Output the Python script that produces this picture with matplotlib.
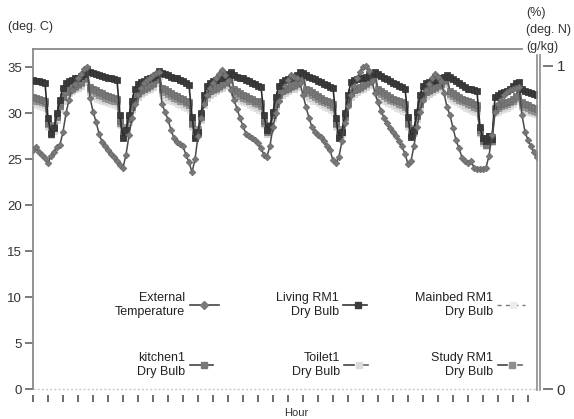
import matplotlib
matplotlib.use('Agg')
import matplotlib.pyplot as plt
from matplotlib.lines import Line2D

plt.rcParams['font.family'] = ['Liberation Sans', 'DejaVu Sans']

# ---------------- data (hourly, deg C) ----------------
external = [
    26.0, 26.3, 25.8, 25.5, 25.1, 24.6, 25.4, 25.8, 26.3, 26.6, 28.0, 30.0, 31.5, 32.5, 33.2, 33.8, 34.3, 34.8, 35.0, 31.7, 30.2, 29.1, 27.8, 26.9,
    26.5, 26.0, 25.6, 25.3, 24.8, 24.4, 24.1, 25.5, 27.6, 29.5, 31.0, 32.0, 32.8, 33.3, 33.6, 33.9, 34.2, 34.4, 34.5, 31.0, 30.2, 29.3, 28.2, 27.3,
    26.9, 26.7, 26.4, 25.5, 24.7, 23.6, 25.0, 27.5, 29.5, 31.0, 32.0, 32.8, 33.3, 33.8, 34.3, 34.7, 34.2, 33.5, 32.5, 31.5, 30.5, 29.5, 28.6, 27.8,
    27.5, 27.3, 27.1, 26.8, 26.2, 25.5, 25.3, 26.5, 28.5, 30.0, 31.4, 32.3, 33.0, 33.6, 34.2, 34.0, 33.8, 33.3, 32.0, 30.7, 29.5, 28.5, 28.0, 27.7,
    27.4, 27.0, 26.5, 26.0, 24.9, 24.6, 25.3, 27.0, 29.0, 30.8, 32.0, 33.0, 33.8, 34.5, 35.0, 35.2, 34.6, 33.5, 32.2, 31.2, 30.3, 29.5, 28.9, 28.4,
    28.0, 27.5, 27.0, 26.4, 25.6, 24.5, 24.8, 26.5, 28.5, 30.2, 31.5, 32.5, 33.2, 33.8, 34.3, 34.0, 33.5, 32.2, 30.7, 29.8, 28.4, 27.1, 26.2, 25.2,
    24.8, 24.6, 24.8, 24.1, 24.0, 23.9, 23.9, 24.1, 25.4, 27.6, 30.1, 31.0, 31.5, 32.0, 32.3, 32.5, 32.7, 32.8, 32.9, 29.8, 28.0, 27.1, 26.4, 25.8, 25.3,
]
living = [
    33.6, 33.5, 33.5, 33.4, 33.3, 29.5, 27.8, 28.4, 30.0, 31.5, 32.8, 33.3, 33.5, 33.6, 33.8, 33.9, 34.1, 34.3, 34.8, 34.5, 34.4, 34.3, 34.2, 34.1,
    34.0, 33.9, 33.8, 33.7, 33.6, 29.8, 27.3, 28.2, 29.8, 31.4, 32.7, 33.2, 33.4, 33.5, 33.7, 33.8, 34.0, 34.2, 34.6, 34.4, 34.3, 34.2, 34.0, 33.9,
    33.8, 33.6, 33.5, 33.3, 33.1, 29.6, 27.3, 28.0, 30.0, 32.0, 33.0, 33.3, 33.5, 33.6, 33.8, 33.9, 34.1, 34.3, 34.5, 34.2, 34.0, 33.9, 33.8, 33.6,
    33.5, 33.3, 33.2, 33.0, 32.9, 29.8, 28.2, 28.6, 30.2, 31.8, 33.0, 33.4, 33.6, 33.7, 33.9, 34.0, 34.2, 34.5, 34.4, 34.2, 34.0, 33.8, 33.7, 33.5,
    33.4, 33.2, 33.1, 32.9, 32.8, 29.5, 27.3, 28.0, 30.0, 32.0, 33.4, 33.6, 33.7, 33.8, 33.9, 34.0, 34.2, 34.3, 34.5, 34.3, 34.1, 33.9, 33.7, 33.5,
    33.3, 33.2, 33.0, 32.9, 32.7, 29.6, 27.4, 28.2, 30.2, 32.0, 33.0, 33.3, 33.4, 33.5, 33.6, 33.7, 33.8, 34.0, 34.2, 34.0, 33.7, 33.5, 33.3, 33.1,
    32.9, 32.7, 32.6, 32.5, 32.4, 28.5, 27.3, 27.0, 27.5, 27.2, 31.8, 32.0, 32.2, 32.3, 32.4, 32.6, 33.0, 33.3, 33.4, 32.6, 32.4, 32.3, 32.2, 32.1, 32.0,
]
kitchen = [
    31.8, 31.7, 31.6, 31.5, 31.4, 29.0, 27.9, 28.5, 29.6, 30.8, 31.8, 32.3, 32.6, 32.8, 33.0, 33.2, 33.4, 33.8, 34.6, 32.9, 32.7, 32.5, 32.3, 32.2,
    32.0, 31.9, 31.8, 31.7, 31.6, 29.2, 27.6, 28.2, 29.4, 30.7, 31.6, 32.2, 32.5, 32.7, 32.9, 33.1, 33.3, 33.7, 34.4, 32.8, 32.6, 32.4, 32.2, 32.0,
    31.9, 31.7, 31.6, 31.4, 31.2, 29.0, 27.6, 28.0, 29.6, 31.2, 32.1, 32.4, 32.6, 32.8, 33.0, 33.2, 33.4, 33.7, 34.3, 32.6, 32.4, 32.2, 32.0, 31.9,
    31.7, 31.6, 31.4, 31.3, 31.1, 29.2, 28.0, 28.4, 29.8, 31.0, 32.0, 32.4, 32.6, 32.8, 33.0, 33.1, 33.3, 33.8, 34.2, 32.7, 32.5, 32.3, 32.1, 31.9,
    31.7, 31.5, 31.4, 31.2, 31.0, 29.0, 27.5, 28.0, 29.6, 31.2, 32.2, 32.5, 32.7, 32.9, 33.1, 33.3, 33.5, 33.9, 34.3, 32.6, 32.4, 32.2, 32.0, 31.8,
    31.6, 31.5, 31.3, 31.2, 31.0, 29.0, 27.6, 28.1, 29.7, 31.0, 32.0, 32.3, 32.5, 32.7, 32.9, 33.1, 33.3, 33.6, 33.9, 32.4, 32.2, 32.0, 31.8, 31.6,
    31.5, 31.3, 31.2, 31.0, 30.9, 28.2, 27.0, 26.6, 27.2, 27.0, 30.6, 30.8, 31.0, 31.1, 31.2, 31.4, 31.6, 31.9, 32.8, 31.2, 31.0, 30.9, 30.7, 30.6, 30.5,
]
study = [
    31.5, 31.4, 31.3, 31.2, 31.1, 28.8, 28.2, 28.7, 29.8, 31.0, 31.9, 32.4, 32.6, 32.7, 32.9, 33.1, 33.3, 33.7, 34.5, 32.6, 32.4, 32.2, 32.0, 31.9,
    31.7, 31.6, 31.5, 31.4, 31.3, 29.0, 27.9, 28.5, 29.6, 30.9, 31.8, 32.2, 32.4, 32.6, 32.8, 33.0, 33.2, 33.6, 34.3, 32.5, 32.3, 32.1, 31.9, 31.7,
    31.6, 31.4, 31.3, 31.1, 30.9, 28.8, 27.9, 28.3, 29.8, 31.4, 32.2, 32.4, 32.5, 32.7, 32.9, 33.1, 33.3, 33.6, 34.2, 32.3, 32.1, 31.9, 31.7, 31.6,
    31.4, 31.3, 31.1, 31.0, 30.8, 29.0, 28.3, 28.7, 30.0, 31.2, 32.1, 32.4, 32.5, 32.7, 32.9, 33.0, 33.2, 33.7, 34.1, 32.4, 32.2, 32.0, 31.8, 31.6,
    31.4, 31.2, 31.1, 30.9, 30.7, 28.8, 27.8, 28.3, 29.8, 31.4, 32.3, 32.5, 32.6, 32.8, 33.0, 33.2, 33.4, 33.8, 34.2, 32.3, 32.1, 31.9, 31.7, 31.5,
    31.3, 31.2, 31.0, 30.9, 30.7, 28.8, 27.9, 28.4, 29.9, 31.2, 32.1, 32.3, 32.4, 32.6, 32.8, 33.0, 33.2, 33.5, 33.8, 32.1, 31.9, 31.7, 31.5, 31.3,
    31.2, 31.0, 30.9, 30.7, 30.6, 28.0, 27.3, 26.9, 27.5, 27.4, 30.4, 30.6, 30.8, 30.9, 31.0, 31.2, 31.4, 31.7, 32.6, 30.9, 30.7, 30.6, 30.4, 30.3, 30.2,
]
toilet = [
    31.3, 31.2, 31.1, 31.0, 30.9, 28.6, 27.6, 28.1, 29.3, 30.5, 31.4, 31.9, 32.2, 32.4, 32.6, 32.8, 33.0, 33.4, 34.3, 32.3, 32.1, 31.9, 31.8, 31.6,
    31.5, 31.4, 31.3, 31.2, 31.1, 28.8, 27.4, 27.9, 29.1, 30.4, 31.3, 31.8, 32.1, 32.3, 32.5, 32.7, 32.9, 33.3, 34.1, 32.2, 32.0, 31.8, 31.7, 31.5,
    31.3, 31.2, 31.0, 30.9, 30.7, 28.6, 27.4, 27.8, 29.3, 30.9, 31.7, 32.0, 32.2, 32.4, 32.6, 32.8, 33.0, 33.3, 34.0, 32.1, 31.9, 31.7, 31.5, 31.4,
    31.2, 31.0, 30.9, 30.7, 30.6, 28.8, 27.8, 28.2, 29.5, 30.7, 31.6, 32.0, 32.2, 32.4, 32.6, 32.7, 32.9, 33.4, 33.9, 32.1, 31.9, 31.7, 31.6, 31.4,
    31.2, 31.0, 30.9, 30.7, 30.5, 28.6, 27.3, 27.8, 29.3, 30.9, 31.8, 32.1, 32.3, 32.5, 32.7, 32.9, 33.1, 33.5, 34.0, 32.0, 31.8, 31.6, 31.4, 31.3,
    31.1, 30.9, 30.8, 30.6, 30.5, 28.6, 27.4, 27.9, 29.4, 30.7, 31.6, 31.9, 32.1, 32.3, 32.5, 32.7, 32.9, 33.2, 33.6, 31.9, 31.7, 31.5, 31.3, 31.1,
    30.9, 30.8, 30.6, 30.5, 30.4, 27.9, 26.8, 26.4, 27.0, 26.9, 30.2, 30.4, 30.6, 30.7, 30.8, 31.0, 31.2, 31.5, 32.4, 30.7, 30.5, 30.4, 30.2, 30.1, 30.0,
]
mainbed = [
    31.0, 30.9, 30.8, 30.7, 30.6, 28.5, 27.9, 28.3, 29.4, 30.6, 31.5, 32.0, 32.3, 32.5, 32.7, 32.9, 33.1, 33.5, 34.4, 32.0, 31.8, 31.6, 31.5, 31.3,
    31.2, 31.1, 31.0, 30.9, 30.8, 28.7, 27.7, 28.1, 29.2, 30.5, 31.4, 31.9, 32.2, 32.4, 32.6, 32.8, 33.0, 33.4, 34.2, 31.9, 31.7, 31.5, 31.4, 31.2,
    31.0, 30.9, 30.7, 30.6, 30.4, 28.5, 27.7, 28.0, 29.4, 31.0, 31.8, 32.1, 32.3, 32.5, 32.7, 32.9, 33.1, 33.4, 34.1, 31.8, 31.6, 31.4, 31.2, 31.1,
    30.9, 30.7, 30.6, 30.4, 30.3, 28.7, 28.0, 28.4, 29.6, 30.8, 31.7, 32.1, 32.3, 32.5, 32.7, 32.8, 33.0, 33.5, 34.0, 31.8, 31.6, 31.4, 31.3, 31.1,
    30.9, 30.7, 30.6, 30.4, 30.2, 28.5, 27.6, 28.0, 29.4, 31.0, 31.9, 32.2, 32.4, 32.6, 32.8, 33.0, 33.2, 33.6, 34.1, 31.7, 31.5, 31.3, 31.1, 31.0,
    30.8, 30.6, 30.5, 30.3, 30.2, 28.5, 27.7, 28.1, 29.5, 30.8, 31.7, 32.0, 32.2, 32.4, 32.6, 32.8, 33.0, 33.3, 33.7, 31.6, 31.4, 31.2, 31.0, 30.8,
    30.6, 30.5, 30.3, 30.2, 30.1, 27.8, 27.1, 26.7, 27.2, 27.1, 30.0, 30.2, 30.4, 30.5, 30.6, 30.8, 31.0, 31.3, 32.3, 30.5, 30.3, 30.2, 30.0, 29.9, 29.8,
]
hours = list(range(len(external)))
x_ticks = list(range(0, 166, 5))
left_ticks = [0, 5, 10, 15, 20, 25, 30, 35]
right_ticks = [0, 1]

labels = {
    'ext': 'External\nTemperature',
    'living': 'Living RM1\nDry Bulb',
    'mainbed': 'Mainbed RM1\nDry Bulb',
    'kitchen': 'kitchen1\nDry Bulb',
    'toilet': 'Toilet1\nDry Bulb',
    'study': 'Study RM1\nDry Bulb',
}

# ---------------- figure ----------------
W, H = 574, 419
fig = plt.figure(figsize=(W / 100, H / 100), dpi=100)
fig.patch.set_facecolor('white')


def box(x0, y0, x1, y1):
    return [x0 / W, 1 - y1 / H, (x1 - x0) / W, (y1 - y0) / H]


def fx(x):
    return x / W


def fy(y):
    return 1 - y / H


ax = fig.add_axes(box(33, 49, 537, 389.3))
ax.set_xlim(0, 168)
ax.set_ylim(0, 37)

# faint zero-level dotted line
ax.plot([0, 168], [0, 0], color='#c8c8c8', lw=1.0, ls=(0, (1.5, 1.5)), zorder=1, clip_on=False)

ax.plot(hours, mainbed, color='#d2d2d2', lw=1.2, ls=(0, (3, 2)), marker='s', ms=3.6,
        mfc='#e8e8e8', mec='#dddddd', mew=0.5, zorder=2)
ax.plot(hours, toilet, color='#b8b8b8', lw=1.2, ls=(0, (3, 2)), marker='s', ms=3.8,
        mfc='#d6d6d6', mec='#cdcdcd', mew=0.5, zorder=3)
ax.plot(hours, study, color='#777777', lw=1.2, ls=(0, (3, 2)), marker='s', ms=3.8,
        mfc='#929292', mec='#888888', mew=0.5, zorder=4)
ax.plot(hours, kitchen, color='#5a5a5a', lw=1.2, marker='s', ms=3.8,
        mfc='#777777', mec='#6c6c6c', mew=0.5, zorder=5)
ax.plot(hours, living, color='#2a2a2a', lw=1.2, marker='s', ms=4.0,
        mfc='#3a3a3a', mec='#303030', mew=0.5, zorder=6)
ax.plot(hours, external, color='#4a4a4a', lw=1.1, marker='D', ms=3.4,
        mfc='#787878', mec='#666666', mew=0.5, zorder=7)

# axes styling
for s in ['top', 'right']:
    ax.spines[s].set_visible(False)
ax.spines['bottom'].set_position(('outward', 4))
ax.spines['bottom'].set_visible(False)
ax.spines['left'].set_color('#8a8a8a')
ax.spines['left'].set_linewidth(1.3)
ax.add_line(Line2D([0, 0.970], [1, 1], transform=ax.transAxes, color='#8a8a8a', lw=1.3, clip_on=False))

ax.set_xticks(x_ticks)
ax.set_xticklabels([''] * len(x_ticks))
ax.tick_params(axis='x', length=5, width=1.1, color='#444444', direction='out')
ax.set_yticks(left_ticks)
ax.set_yticklabels([str(v) for v in left_ticks])
ax.tick_params(axis='y', length=6, width=1.1, color='#555555', pad=2, labelsize=9.5, labelcolor='#333333')

# right axis
ax2 = ax.twinx()
ax2.set_ylim(0, 37 / 35.2)
for s in ['top', 'left', 'bottom']:
    ax2.spines[s].set_visible(False)
ax2.spines['right'].set_position(('outward', 4))
ax2.spines['right'].set_visible(False)
ax2.set_yticks(right_ticks)
ax2.set_yticklabels([str(v) for v in right_ticks])
ax2.tick_params(axis='y', length=7, width=1.1, color='#555555', pad=3, labelsize=11, labelcolor='#333333')
y_top = (389.3 - 55) / (389.3 - 49)
for xp in (536.6, 539.6):
    xa = (xp - 33) / 504
    ax.add_line(Line2D([xa, xa], [y_top, -0.003], transform=ax.transAxes,
                       color='#8c8c8c', lw=1.2, clip_on=False, zorder=10))

# axis unit labels
fig.text(fx(8), fy(27), '(deg. C)', fontsize=9, color='#333333', ha='left', va='center')
for yy, t in zip((13, 30, 47), ('(%)', '(deg. N)', '(g/kg)')):
    fig.text(fx(526), fy(yy), t, fontsize=9, color='#333333', ha='left', va='center')
fig.text(fx(296), fy(408), 'Hour', fontsize=8, color='#333333', ha='center', va='top')


# ---------------- legend (manual) ----------------
def ftext(x, y, s):
    fig.text(fx(x), fy(y), s, fontsize=9, color='#222222', ha='right', va='center',
             multialignment='right', linespacing=1.25)


def fline(x0, x1, y, **kw):
    fig.add_artist(Line2D([fx(x0), fx(x1)], [fy(y), fy(y)], transform=fig.transFigure, **kw))


def fmark(x, y, marker, ms, color):
    fig.add_artist(Line2D([fx(x)], [fy(y)], transform=fig.transFigure, marker=marker, ms=ms,
                          mfc=color, mec=color, ls='none'))


r1, r2 = 305, 365
ftext(185, r1, labels['ext'])
fline(190, 219, r1, color='#444444', lw=1.2)
fmark(204, r1, 'D', 4.0, '#7a7a7a')

ftext(185, r2, labels['kitchen'])
fline(190, 213, r2, color='#444444', lw=1.2)
fmark(204, r2, 's', 5.0, '#787878')

ftext(339, r1, labels['living'])
fline(343, 367, r1, color='#333333', lw=1.2)
fmark(358, r1, 's', 5.0, '#3c3c3c')

ftext(340, r2, labels['toilet'])
fline(344, 354, r2, color='#444444', lw=1.2)
fmark(359, r2, 's', 5.0, '#dcdcdc')
fline(364, 368, r2, color='#666666', lw=1.2)

ftext(493, r1, labels['mainbed'])
fline(497, 525, r1, color='#777777', lw=1.0, ls=(0, (3, 3)))
fmark(513, r1, 's', 4.0, '#ececec')

ftext(493, r2, labels['study'])
fline(498, 507, r2, color='#444444', lw=1.2)
fmark(512, r2, 's', 5.0, '#8e8e8e')
fline(518, 522, r2, color='#666666', lw=1.2)

fig.savefig('out.png', dpi=100, facecolor='white')
